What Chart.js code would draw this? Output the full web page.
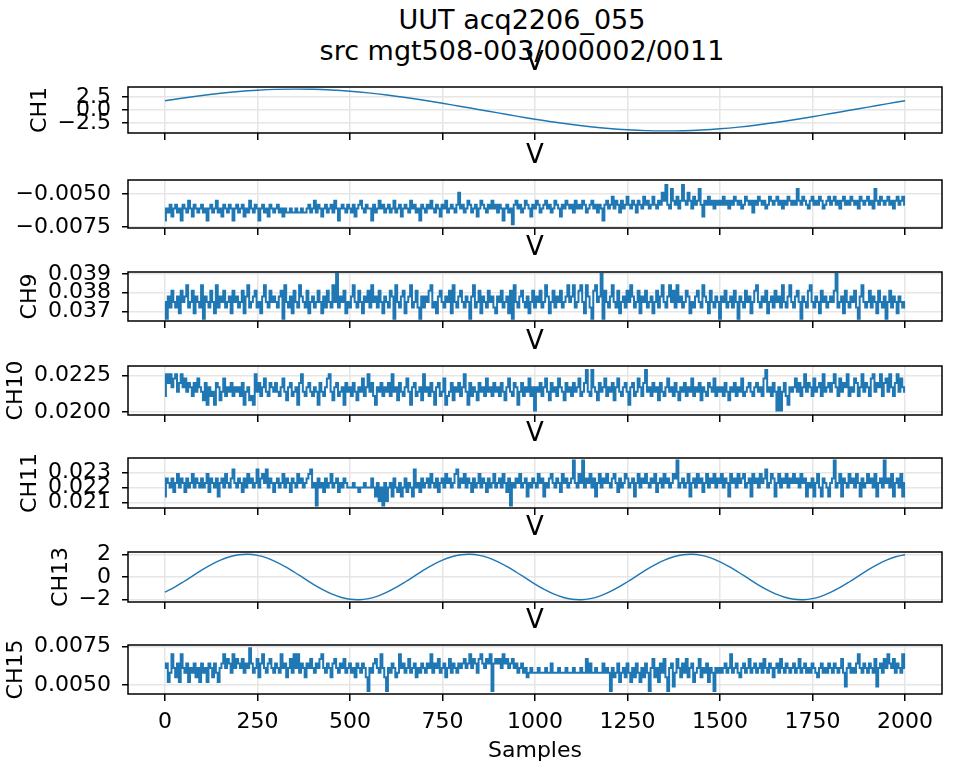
<!DOCTYPE html>
<html>
<head>
<meta charset="utf-8">
<script src="https://cdn.jsdelivr.net/npm/chart.js@4.4.1/dist/chart.umd.min.js"></script>
<style>
  html, body { margin: 0; padding: 0; background: #ffffff; }
  #fig { position: relative; width: 954px; height: 764px; overflow: hidden; background: #ffffff; }
  #fig canvas { position: absolute; left: 0; }
  .suptitle { position: absolute; left: 0; width: 1044px; text-align: center;
              font-family: 'DejaVu Sans', sans-serif; font-size: 27px; line-height: 27px; color: #000; white-space: pre; }
</style>
</head>
<body>
<div id="fig">
  <div class="suptitle" style="top:6px">UUT acq2206_055</div>
  <div class="suptitle" style="top:37px">src mgt508-003/000002/0011</div>
</div>
<script>
// ---- sample axis ----
const SAMPLE_TICKS = [0, 250, 500, 750, 1000, 1250, 1500, 1750, 2000];

// ---- CH1: slow sine, one value every 50 samples ----
const CH1_STEP = 50;
const CH1 = [
  1.76, 2.30, 2.78, 3.20, 3.54, 3.78, 3.94, 4.00, 3.96, 3.82,
  3.59, 3.27, 2.87, 2.40, 1.87, 1.29, 0.68, 0.06, -0.56, -1.18,
  -1.76, -2.30, -2.78, -3.20, -3.54, -3.78, -3.94, -4.00, -3.96, -3.82,
  -3.59, -3.27, -2.87, -2.40, -1.87, -1.29, -0.68, -0.06, 0.56, 1.18,
  1.76
];
const CH1_TICKS = [-2.5, 0, 2.5];

// ---- second row channel (label off the left edge), one value every 5 samples ----
const NOISE_STEP = 5;
const UNLABELED = [
  -0.0070,-0.0061,-0.0064,-0.0058,-0.0067,-0.0061,-0.0058,-0.0064,-0.0061,-0.0070,-0.0058,-0.0061,-0.0064,-0.0055,-0.0061,-0.0067,-0.0058,-0.0061,-0.0064,-0.0061,
  -0.0058,-0.0064,-0.0061,-0.0070,-0.0061,-0.0058,-0.0064,-0.0061,-0.0055,-0.0064,-0.0061,-0.0067,-0.0058,-0.0061,-0.0064,-0.0058,-0.0061,-0.0070,-0.0061,-0.0058,
  -0.0064,-0.0061,-0.0058,-0.0067,-0.0061,-0.0064,-0.0055,-0.0061,-0.0064,-0.0058,-0.0061,-0.0070,-0.0061,-0.0058,-0.0064,-0.0061,-0.0067,-0.0058,-0.0061,-0.0064,
  -0.0061,-0.0058,-0.0064,-0.0061,-0.0067,-0.0061,-0.0064,-0.0064,-0.0061,-0.0064,-0.0064,-0.0061,-0.0064,-0.0064,-0.0061,-0.0064,-0.0064,-0.0061,-0.0058,-0.0064,
  -0.0061,-0.0055,-0.0064,-0.0058,-0.0061,-0.0067,-0.0061,-0.0058,-0.0064,-0.0061,-0.0058,-0.0064,-0.0055,-0.0061,-0.0070,-0.0061,-0.0058,-0.0061,-0.0064,-0.0058,
  -0.0061,-0.0064,-0.0058,-0.0067,-0.0061,-0.0058,-0.0055,-0.0061,-0.0064,-0.0058,-0.0061,-0.0061,-0.0070,-0.0058,-0.0064,-0.0061,-0.0055,-0.0061,-0.0058,-0.0064,
  -0.0061,-0.0058,-0.0064,-0.0061,-0.0055,-0.0064,-0.0061,-0.0058,-0.0067,-0.0061,-0.0058,-0.0061,-0.0064,-0.0055,-0.0061,-0.0058,-0.0064,-0.0061,-0.0070,-0.0058,
  -0.0061,-0.0064,-0.0058,-0.0061,-0.0055,-0.0061,-0.0064,-0.0058,-0.0061,-0.0067,-0.0058,-0.0061,-0.0055,-0.0064,-0.0061,-0.0058,-0.0061,-0.0064,-0.0058,-0.0049,
  -0.0061,-0.0058,-0.0064,-0.0061,-0.0055,-0.0058,-0.0064,-0.0061,-0.0058,-0.0067,-0.0061,-0.0055,-0.0058,-0.0061,-0.0064,-0.0058,-0.0061,-0.0055,-0.0061,-0.0058,
  -0.0064,-0.0058,-0.0061,-0.0070,-0.0061,-0.0058,-0.0064,-0.0061,-0.0073,-0.0058,-0.0055,-0.0061,-0.0058,-0.0064,-0.0061,-0.0055,-0.0058,-0.0061,-0.0067,-0.0058,
  -0.0061,-0.0055,-0.0058,-0.0064,-0.0061,-0.0058,-0.0055,-0.0061,-0.0058,-0.0064,-0.0061,-0.0055,-0.0058,-0.0061,-0.0067,-0.0058,-0.0061,-0.0055,-0.0058,-0.0061,
  -0.0058,-0.0064,-0.0055,-0.0061,-0.0058,-0.0061,-0.0055,-0.0058,-0.0064,-0.0061,-0.0058,-0.0055,-0.0061,-0.0058,-0.0064,-0.0058,-0.0061,-0.0070,-0.0058,-0.0055,
  -0.0061,-0.0058,-0.0052,-0.0061,-0.0055,-0.0058,-0.0064,-0.0055,-0.0061,-0.0058,-0.0052,-0.0058,-0.0061,-0.0055,-0.0058,-0.0064,-0.0055,-0.0058,-0.0061,-0.0052,
  -0.0058,-0.0055,-0.0061,-0.0058,-0.0052,-0.0058,-0.0061,-0.0055,-0.0058,-0.0049,-0.0055,-0.0043,-0.0058,-0.0061,-0.0046,-0.0055,-0.0058,-0.0052,-0.0061,-0.0055,
  -0.0043,-0.0055,-0.0058,-0.0049,-0.0055,-0.0061,-0.0052,-0.0058,-0.0055,-0.0046,-0.0058,-0.0067,-0.0055,-0.0058,-0.0052,-0.0058,-0.0055,-0.0061,-0.0055,-0.0058,
  -0.0055,-0.0058,-0.0052,-0.0058,-0.0055,-0.0061,-0.0055,-0.0058,-0.0052,-0.0055,-0.0058,-0.0055,-0.0061,-0.0058,-0.0052,-0.0055,-0.0058,-0.0055,-0.0064,-0.0055,
  -0.0058,-0.0052,-0.0055,-0.0058,-0.0055,-0.0061,-0.0058,-0.0052,-0.0055,-0.0058,-0.0055,-0.0052,-0.0058,-0.0055,-0.0061,-0.0055,-0.0058,-0.0052,-0.0055,-0.0058,
  -0.0055,-0.0058,-0.0046,-0.0055,-0.0058,-0.0052,-0.0055,-0.0058,-0.0061,-0.0055,-0.0052,-0.0058,-0.0055,-0.0058,-0.0052,-0.0055,-0.0061,-0.0058,-0.0055,-0.0052,
  -0.0058,-0.0055,-0.0052,-0.0058,-0.0055,-0.0061,-0.0055,-0.0052,-0.0058,-0.0055,-0.0058,-0.0052,-0.0055,-0.0058,-0.0055,-0.0061,-0.0052,-0.0055,-0.0058,-0.0055,
  -0.0052,-0.0058,-0.0055,-0.0061,-0.0046,-0.0055,-0.0058,-0.0052,-0.0055,-0.0058,-0.0055,-0.0052,-0.0058,-0.0055,-0.0061,-0.0055,-0.0052,-0.0058,-0.0055,-0.0052,
  -0.0058
];
const UNLABELED_TICKS = [-0.0075, -0.005];

// ---- CH9 ----
const CH9 = [
  0.0375,0.0366,0.0378,0.0372,0.0381,0.0375,0.0372,0.0378,0.0369,0.0381,0.0375,0.0378,0.0384,0.0372,0.0375,0.0381,0.0369,0.0378,0.0375,0.0372,
  0.0384,0.0366,0.0378,0.0375,0.0372,0.0381,0.0375,0.0369,0.0384,0.0372,0.0378,0.0375,0.0381,0.0372,0.0375,0.0378,0.0369,0.0381,0.0375,0.0378,
  0.0372,0.0375,0.0381,0.0369,0.0378,0.0384,0.0372,0.0375,0.0378,0.0381,0.0372,0.0375,0.0369,0.0378,0.0384,0.0375,0.0372,0.0381,0.0375,0.0378,
  0.0375,0.0372,0.0378,0.0381,0.0366,0.0384,0.0375,0.0372,0.0378,0.0369,0.0381,0.0375,0.0372,0.0384,0.0378,0.0375,0.0372,0.0381,0.0369,0.0375,
  0.0378,0.0372,0.0375,0.0381,0.0375,0.0369,0.0378,0.0372,0.0381,0.0375,0.0372,0.0384,0.0375,0.0390,0.0372,0.0378,0.0375,0.0381,0.0369,0.0375,
  0.0372,0.0378,0.0384,0.0375,0.0372,0.0381,0.0375,0.0369,0.0378,0.0375,0.0381,0.0372,0.0384,0.0375,0.0378,0.0372,0.0381,0.0375,0.0369,0.0378,
  0.0375,0.0372,0.0381,0.0378,0.0366,0.0384,0.0375,0.0372,0.0378,0.0381,0.0369,0.0375,0.0378,0.0384,0.0372,0.0375,0.0381,0.0372,0.0366,0.0378,
  0.0372,0.0378,0.0375,0.0381,0.0384,0.0372,0.0375,0.0369,0.0378,0.0381,0.0375,0.0372,0.0378,0.0375,0.0381,0.0369,0.0384,0.0375,0.0372,0.0378,
  0.0381,0.0375,0.0372,0.0378,0.0375,0.0366,0.0378,0.0384,0.0372,0.0375,0.0381,0.0369,0.0378,0.0375,0.0372,0.0381,0.0375,0.0378,0.0372,0.0369,
  0.0378,0.0375,0.0381,0.0372,0.0375,0.0378,0.0369,0.0381,0.0366,0.0384,0.0375,0.0372,0.0378,0.0381,0.0375,0.0372,0.0378,0.0369,0.0375,0.0381,
  0.0372,0.0378,0.0375,0.0381,0.0372,0.0375,0.0384,0.0378,0.0369,0.0375,0.0381,0.0372,0.0378,0.0375,0.0381,0.0372,0.0375,0.0378,0.0384,0.0375,
  0.0378,0.0384,0.0372,0.0375,0.0381,0.0384,0.0375,0.0369,0.0384,0.0378,0.0372,0.0366,0.0381,0.0384,0.0375,0.0378,0.0390,0.0366,0.0381,0.0375,
  0.0372,0.0378,0.0384,0.0375,0.0372,0.0381,0.0369,0.0375,0.0378,0.0372,0.0381,0.0375,0.0384,0.0378,0.0372,0.0375,0.0381,0.0369,0.0378,0.0375,
  0.0381,0.0372,0.0375,0.0378,0.0369,0.0375,0.0381,0.0372,0.0378,0.0384,0.0375,0.0372,0.0378,0.0384,0.0375,0.0381,0.0372,0.0384,0.0375,0.0378,
  0.0372,0.0375,0.0381,0.0378,0.0369,0.0375,0.0372,0.0378,0.0381,0.0375,0.0372,0.0384,0.0378,0.0375,0.0369,0.0381,0.0375,0.0372,0.0378,0.0375,
  0.0366,0.0378,0.0375,0.0381,0.0372,0.0375,0.0378,0.0372,0.0381,0.0375,0.0366,0.0378,0.0375,0.0372,0.0381,0.0375,0.0378,0.0369,0.0375,0.0381,
  0.0384,0.0375,0.0372,0.0378,0.0375,0.0381,0.0369,0.0375,0.0378,0.0372,0.0381,0.0375,0.0378,0.0372,0.0384,0.0375,0.0372,0.0378,0.0384,0.0375,
  0.0372,0.0378,0.0381,0.0375,0.0366,0.0378,0.0375,0.0372,0.0381,0.0384,0.0375,0.0372,0.0378,0.0375,0.0369,0.0381,0.0375,0.0378,0.0372,0.0375,
  0.0378,0.0375,0.0381,0.0390,0.0372,0.0375,0.0378,0.0369,0.0381,0.0375,0.0372,0.0378,0.0375,0.0381,0.0372,0.0366,0.0378,0.0384,0.0375,0.0372,
  0.0375,0.0381,0.0372,0.0378,0.0375,0.0369,0.0381,0.0375,0.0372,0.0378,0.0366,0.0375,0.0381,0.0372,0.0378,0.0375,0.0369,0.0378,0.0375,0.0372,
  0.0375
];
const CH9_TICKS = [0.037, 0.038, 0.039];

// ---- CH10 ----
const CH10 = [
  0.0211,0.0226,0.0220,0.0226,0.0217,0.0223,0.0226,0.0214,0.0220,0.0226,0.0217,0.0223,0.0214,0.0220,0.0217,0.0211,0.0220,0.0214,0.0223,0.0217,
  0.0214,0.0208,0.0220,0.0205,0.0217,0.0211,0.0214,0.0205,0.0220,0.0217,0.0208,0.0214,0.0223,0.0211,0.0217,0.0214,0.0220,0.0211,0.0217,0.0214,
  0.0217,0.0211,0.0220,0.0205,0.0214,0.0217,0.0208,0.0211,0.0205,0.0226,0.0214,0.0220,0.0211,0.0217,0.0223,0.0214,0.0211,0.0220,0.0217,0.0214,
  0.0220,0.0214,0.0211,0.0217,0.0223,0.0214,0.0208,0.0217,0.0220,0.0211,0.0214,0.0217,0.0205,0.0220,0.0226,0.0214,0.0211,0.0217,0.0220,0.0214,
  0.0211,0.0217,0.0214,0.0205,0.0220,0.0214,0.0211,0.0217,0.0223,0.0226,0.0214,0.0208,0.0217,0.0220,0.0211,0.0214,0.0217,0.0205,0.0220,0.0214,
  0.0217,0.0211,0.0220,0.0214,0.0208,0.0217,0.0214,0.0223,0.0211,0.0217,0.0226,0.0214,0.0220,0.0211,0.0205,0.0217,0.0214,0.0220,0.0211,0.0217,
  0.0214,0.0220,0.0211,0.0226,0.0214,0.0217,0.0208,0.0220,0.0214,0.0211,0.0217,0.0223,0.0214,0.0205,0.0217,0.0220,0.0211,0.0214,0.0217,0.0208,
  0.0226,0.0214,0.0217,0.0211,0.0220,0.0214,0.0205,0.0217,0.0220,0.0211,0.0214,0.0223,0.0205,0.0211,0.0214,0.0220,0.0208,0.0217,0.0214,0.0220,
  0.0211,0.0217,0.0226,0.0214,0.0205,0.0220,0.0211,0.0217,0.0214,0.0208,0.0220,0.0214,0.0217,0.0211,0.0223,0.0214,0.0217,0.0211,0.0220,0.0214,
  0.0217,0.0211,0.0220,0.0214,0.0208,0.0217,0.0223,0.0214,0.0211,0.0220,0.0217,0.0205,0.0214,0.0220,0.0211,0.0217,0.0214,0.0223,0.0211,0.0217,
  0.0201,0.0217,0.0214,0.0220,0.0211,0.0217,0.0223,0.0214,0.0208,0.0220,0.0214,0.0217,0.0211,0.0223,0.0217,0.0214,0.0208,0.0220,0.0214,0.0217,
  0.0211,0.0220,0.0214,0.0217,0.0223,0.0211,0.0214,0.0220,0.0229,0.0214,0.0211,0.0229,0.0217,0.0214,0.0208,0.0220,0.0214,0.0217,0.0223,0.0211,
  0.0217,0.0214,0.0220,0.0208,0.0217,0.0223,0.0214,0.0211,0.0217,0.0220,0.0214,0.0205,0.0217,0.0220,0.0211,0.0214,0.0223,0.0217,0.0211,0.0220,
  0.0229,0.0214,0.0217,0.0211,0.0220,0.0214,0.0217,0.0208,0.0220,0.0214,0.0211,0.0217,0.0223,0.0214,0.0217,0.0211,0.0220,0.0214,0.0208,0.0217,
  0.0214,0.0220,0.0211,0.0217,0.0214,0.0223,0.0211,0.0217,0.0214,0.0220,0.0208,0.0217,0.0214,0.0211,0.0220,0.0217,0.0214,0.0223,0.0211,0.0217,
  0.0214,0.0217,0.0211,0.0220,0.0214,0.0208,0.0217,0.0214,0.0220,0.0211,0.0217,0.0214,0.0223,0.0211,0.0214,0.0217,0.0220,0.0214,0.0211,0.0217,
  0.0220,0.0214,0.0217,0.0211,0.0223,0.0229,0.0214,0.0217,0.0211,0.0220,0.0214,0.0201,0.0217,0.0201,0.0214,0.0220,0.0211,0.0205,0.0217,0.0214,
  0.0217,0.0223,0.0214,0.0220,0.0211,0.0217,0.0226,0.0214,0.0220,0.0217,0.0211,0.0223,0.0214,0.0217,0.0220,0.0211,0.0226,0.0214,0.0217,0.0220,
  0.0214,0.0220,0.0226,0.0217,0.0211,0.0223,0.0214,0.0220,0.0217,0.0226,0.0211,0.0217,0.0214,0.0223,0.0220,0.0211,0.0217,0.0226,0.0214,0.0220,
  0.0217,0.0211,0.0223,0.0226,0.0214,0.0220,0.0217,0.0226,0.0211,0.0220,0.0223,0.0214,0.0226,0.0217,0.0211,0.0220,0.0226,0.0214,0.0223,0.0217,
  0.0214
];
const CH10_TICKS = [0.02, 0.0225];

// ---- CH11 ----
const CH11 = [
  0.0214,0.0226,0.0223,0.0220,0.0226,0.0217,0.0223,0.0229,0.0220,0.0226,0.0223,0.0217,0.0226,0.0220,0.0223,0.0229,0.0220,0.0226,0.0223,0.0220,
  0.0226,0.0220,0.0223,0.0229,0.0217,0.0226,0.0223,0.0220,0.0226,0.0214,0.0223,0.0226,0.0220,0.0229,0.0223,0.0220,0.0226,0.0232,0.0223,0.0220,
  0.0226,0.0223,0.0217,0.0226,0.0220,0.0229,0.0223,0.0226,0.0220,0.0223,0.0232,0.0220,0.0226,0.0229,0.0223,0.0232,0.0220,0.0226,0.0223,0.0217,
  0.0223,0.0226,0.0220,0.0223,0.0229,0.0220,0.0226,0.0223,0.0217,0.0226,0.0223,0.0220,0.0229,0.0223,0.0226,0.0220,0.0223,0.0226,0.0229,0.0232,
  0.0220,0.0223,0.0208,0.0226,0.0220,0.0223,0.0217,0.0226,0.0220,0.0223,0.0229,0.0220,0.0223,0.0226,0.0217,0.0223,0.0220,0.0226,0.0223,0.0220,
  0.0220,0.0220,0.0223,0.0220,0.0220,0.0217,0.0220,0.0220,0.0223,0.0220,0.0220,0.0220,0.0226,0.0220,0.0214,0.0223,0.0211,0.0220,0.0208,0.0223,
  0.0211,0.0220,0.0223,0.0214,0.0226,0.0220,0.0217,0.0223,0.0214,0.0220,0.0226,0.0217,0.0223,0.0220,0.0214,0.0232,0.0220,0.0223,0.0217,0.0226,
  0.0220,0.0223,0.0226,0.0220,0.0229,0.0223,0.0220,0.0226,0.0217,0.0223,0.0226,0.0220,0.0229,0.0223,0.0226,0.0220,0.0223,0.0229,0.0232,0.0220,
  0.0226,0.0223,0.0229,0.0220,0.0226,0.0223,0.0217,0.0226,0.0220,0.0223,0.0229,0.0220,0.0226,0.0223,0.0217,0.0226,0.0220,0.0223,0.0229,0.0220,
  0.0223,0.0226,0.0220,0.0229,0.0223,0.0217,0.0226,0.0208,0.0223,0.0220,0.0226,0.0223,0.0229,0.0220,0.0223,0.0226,0.0214,0.0223,0.0220,0.0226,
  0.0223,0.0220,0.0229,0.0223,0.0226,0.0214,0.0223,0.0220,0.0226,0.0229,0.0223,0.0220,0.0226,0.0223,0.0217,0.0229,0.0223,0.0226,0.0220,0.0223,
  0.0226,0.0238,0.0223,0.0220,0.0229,0.0223,0.0238,0.0220,0.0226,0.0223,0.0229,0.0220,0.0226,0.0214,0.0223,0.0229,0.0220,0.0226,0.0223,0.0229,
  0.0223,0.0220,0.0226,0.0229,0.0223,0.0217,0.0226,0.0220,0.0223,0.0229,0.0226,0.0220,0.0223,0.0226,0.0214,0.0223,0.0229,0.0220,0.0226,0.0223,
  0.0229,0.0223,0.0220,0.0226,0.0223,0.0229,0.0217,0.0223,0.0226,0.0220,0.0229,0.0223,0.0226,0.0220,0.0223,0.0229,0.0226,0.0238,0.0220,0.0223,
  0.0226,0.0220,0.0223,0.0229,0.0214,0.0223,0.0226,0.0220,0.0229,0.0223,0.0226,0.0217,0.0223,0.0229,0.0220,0.0226,0.0223,0.0229,0.0220,0.0226,
  0.0223,0.0229,0.0220,0.0226,0.0223,0.0214,0.0229,0.0223,0.0226,0.0220,0.0229,0.0223,0.0226,0.0229,0.0220,0.0223,0.0226,0.0214,0.0229,0.0223,
  0.0226,0.0220,0.0229,0.0223,0.0226,0.0232,0.0220,0.0223,0.0229,0.0226,0.0214,0.0223,0.0229,0.0220,0.0226,0.0223,0.0229,0.0220,0.0226,0.0223,
  0.0229,0.0223,0.0226,0.0220,0.0229,0.0223,0.0226,0.0214,0.0223,0.0220,0.0226,0.0214,0.0223,0.0229,0.0220,0.0214,0.0226,0.0223,0.0220,0.0214,
  0.0223,0.0226,0.0238,0.0220,0.0223,0.0229,0.0214,0.0226,0.0223,0.0220,0.0229,0.0223,0.0226,0.0220,0.0229,0.0223,0.0214,0.0226,0.0220,0.0223,
  0.0229,0.0223,0.0226,0.0220,0.0229,0.0214,0.0223,0.0226,0.0220,0.0238,0.0223,0.0226,0.0220,0.0229,0.0214,0.0223,0.0226,0.0220,0.0229,0.0214,
  0.0223
];
const CH11_TICKS = [0.021, 0.022, 0.023];

// ---- CH13: faster sine, one value every 25 samples ----
const CH13_STEP = 25;
const CH13 = [
  -1.34,-0.91,-0.42,0.10,0.62,1.09,1.49,1.78,1.96,2.00,1.90,1.68,1.34,0.91,0.42,-0.10,-0.62,-1.09,-1.49,-1.78,-1.96,-2.00,-1.90,-1.68,
  -1.34,-0.91,-0.42,0.10,0.62,1.09,1.49,1.78,1.96,2.00,1.90,1.68,1.34,0.91,0.42,-0.10,-0.62,-1.09,-1.49,-1.78,-1.96,-2.00,-1.90,-1.68,
  -1.34,-0.91,-0.42,0.10,0.62,1.09,1.49,1.78,1.96,2.00,1.90,1.68,1.34,0.91,0.42,-0.10,-0.62,-1.09,-1.49,-1.78,-1.96,-2.00,-1.90,-1.68,
  -1.34,-0.91,-0.42,0.10,0.62,1.09,1.49,1.78,1.96
];
const CH13_TICKS = [-2, 0, 2];

// ---- CH15 ----
const CH15 = [
  0.0061,0.0064,0.0052,0.0058,0.0070,0.0061,0.0055,0.0064,0.0052,0.0070,0.0061,0.0058,0.0064,0.0052,0.0061,0.0058,0.0064,0.0055,0.0061,0.0052,
  0.0064,0.0058,0.0061,0.0052,0.0064,0.0061,0.0055,0.0064,0.0058,0.0052,0.0061,0.0064,0.0070,0.0061,0.0067,0.0064,0.0058,0.0070,0.0061,0.0067,
  0.0064,0.0061,0.0067,0.0058,0.0064,0.0061,0.0074,0.0064,0.0058,0.0061,0.0067,0.0055,0.0064,0.0070,0.0061,0.0058,0.0064,0.0067,0.0061,0.0058,
  0.0064,0.0061,0.0058,0.0070,0.0061,0.0064,0.0055,0.0061,0.0067,0.0058,0.0070,0.0061,0.0070,0.0058,0.0064,0.0061,0.0055,0.0064,0.0061,0.0067,
  0.0061,0.0058,0.0064,0.0061,0.0067,0.0070,0.0061,0.0058,0.0064,0.0061,0.0055,0.0064,0.0067,0.0061,0.0058,0.0064,0.0061,0.0067,0.0058,0.0061,
  0.0064,0.0058,0.0061,0.0055,0.0064,0.0061,0.0058,0.0064,0.0061,0.0055,0.0046,0.0061,0.0058,0.0064,0.0067,0.0061,0.0058,0.0070,0.0061,0.0055,
  0.0046,0.0061,0.0058,0.0064,0.0061,0.0055,0.0058,0.0070,0.0061,0.0064,0.0058,0.0061,0.0067,0.0058,0.0061,0.0064,0.0055,0.0061,0.0058,0.0064,
  0.0061,0.0058,0.0064,0.0061,0.0070,0.0058,0.0064,0.0061,0.0067,0.0058,0.0061,0.0064,0.0055,0.0061,0.0067,0.0058,0.0064,0.0061,0.0058,0.0064,
  0.0061,0.0064,0.0067,0.0061,0.0064,0.0070,0.0061,0.0067,0.0064,0.0058,0.0067,0.0070,0.0064,0.0061,0.0067,0.0064,0.0070,0.0046,0.0064,0.0067,
  0.0064,0.0067,0.0061,0.0070,0.0064,0.0067,0.0061,0.0064,0.0067,0.0061,0.0064,0.0058,0.0061,0.0064,0.0058,0.0061,0.0055,0.0058,0.0061,0.0058,
  0.0058,0.0058,0.0061,0.0058,0.0058,0.0058,0.0061,0.0058,0.0058,0.0064,0.0058,0.0058,0.0058,0.0061,0.0058,0.0058,0.0058,0.0061,0.0058,0.0058,
  0.0058,0.0061,0.0058,0.0058,0.0058,0.0061,0.0058,0.0058,0.0067,0.0058,0.0064,0.0058,0.0058,0.0061,0.0058,0.0058,0.0058,0.0064,0.0058,0.0061,
  0.0058,0.0046,0.0061,0.0055,0.0058,0.0064,0.0052,0.0058,0.0061,0.0055,0.0064,0.0058,0.0052,0.0061,0.0055,0.0064,0.0058,0.0052,0.0061,0.0055,
  0.0064,0.0058,0.0046,0.0061,0.0067,0.0055,0.0061,0.0052,0.0064,0.0058,0.0067,0.0055,0.0046,0.0061,0.0064,0.0049,0.0058,0.0067,0.0061,0.0055,
  0.0064,0.0058,0.0067,0.0055,0.0061,0.0064,0.0052,0.0058,0.0061,0.0067,0.0055,0.0061,0.0058,0.0064,0.0052,0.0061,0.0058,0.0046,0.0061,0.0058,
  0.0061,0.0058,0.0061,0.0064,0.0058,0.0061,0.0070,0.0058,0.0061,0.0064,0.0058,0.0055,0.0061,0.0064,0.0058,0.0061,0.0067,0.0058,0.0061,0.0064,
  0.0058,0.0061,0.0064,0.0058,0.0067,0.0061,0.0058,0.0064,0.0061,0.0055,0.0061,0.0064,0.0058,0.0067,0.0061,0.0058,0.0064,0.0061,0.0058,0.0061,
  0.0064,0.0058,0.0061,0.0067,0.0058,0.0061,0.0064,0.0058,0.0061,0.0058,0.0064,0.0061,0.0058,0.0055,0.0061,0.0064,0.0058,0.0061,0.0058,0.0064,
  0.0061,0.0058,0.0064,0.0061,0.0058,0.0061,0.0067,0.0058,0.0049,0.0061,0.0064,0.0058,0.0061,0.0058,0.0064,0.0070,0.0061,0.0058,0.0064,0.0061,
  0.0058,0.0064,0.0061,0.0058,0.0067,0.0049,0.0061,0.0064,0.0058,0.0067,0.0061,0.0070,0.0064,0.0061,0.0067,0.0058,0.0064,0.0061,0.0058,0.0070,
  0.0061
];
const CH15_TICKS = [0.005, 0.0075];

// ---- styling ----
const FONT = "'DejaVu Sans', sans-serif";
const LINE_COLOR = '#1f77b4';
const GRID_COLOR = '#e6e6e6';
const TICK_FONT_SIZE = 22;
const TITLE_FONT_SIZE = 26;
const Y_TICK_LEN = 6, Y_TICK_PAD = 11, YLABEL_GAP = 12;
const AXES_LEFT = 128, AXES_RIGHT = 942, FIG_W = 954;
const TITLE_BLOCK = 39;

Chart.defaults.font.family = FONT;
Chart.defaults.color = '#000';

const PANELS = [
  { label: 'CH1',  values: CH1,       step: CH1_STEP,   ticks: CH1_TICKS,       digits: 1, yMin: -4.4,     yMax: 4.4,      top: 87,  bottom: 133, width: 1.4, tension: 0.4, stepped: false },
  { label: '',     values: UNLABELED, step: NOISE_STEP, ticks: UNLABELED_TICKS, digits: 4, yMin: -0.00758, yMax: -0.00392, top: 180, bottom: 228, width: 2, tension: 0, stepped: 'middle' },
  { label: 'CH9',  values: CH9,       step: NOISE_STEP, ticks: CH9_TICKS,       digits: 3, yMin: 0.03648,  yMax: 0.03911,  top: 272, bottom: 321, width: 2, tension: 0, stepped: 'middle' },
  { label: 'CH10', values: CH10,      step: NOISE_STEP, ticks: CH10_TICKS,      digits: 4, yMin: 0.01979,  yMax: 0.02317,  top: 366, bottom: 415, width: 2, tension: 0, stepped: 'middle' },
  { label: 'CH11', values: CH11,      step: NOISE_STEP, ticks: CH11_TICKS,      digits: 3, yMin: 0.02064,  yMax: 0.02397,  top: 458, bottom: 508, width: 2, tension: 0, stepped: 'middle' },
  { label: 'CH13', values: CH13,      step: CH13_STEP,  ticks: CH13_TICKS,      digits: 0, yMin: -2.2,     yMax: 2.2,      top: 552, bottom: 602, width: 1.4, tension: 0.4, stepped: false },
  { label: 'CH15', values: CH15,      step: NOISE_STEP, ticks: CH15_TICKS,      digits: 4, yMin: 0.00441,  yMax: 0.00761,  top: 645, bottom: 694, width: 2, tension: 0, stepped: 'middle' }
];

// black frame around each axes box
const framePlugin = {
  id: 'frame',
  afterDatasetsDraw(chart) {
    const { ctx, chartArea: a } = chart;
    ctx.save();
    ctx.strokeStyle = '#000';
    ctx.lineWidth = 1.5;
    ctx.strokeRect(a.left, a.top, a.right - a.left, a.bottom - a.top);
    ctx.restore();
  }
};

// rotated y label placed just left of the widest tick label
const yLabelPlugin = {
  id: 'yLabel',
  afterDraw(chart, args, opts) {
    if (!opts.text) return;
    const { ctx, chartArea: a } = chart;
    const y = chart.scales.y;
    ctx.save();
    ctx.font = TICK_FONT_SIZE + 'px ' + FONT;
    let w = 0;
    y.ticks.forEach(t => { w = Math.max(w, ctx.measureText(String(t.label)).width); });
    const x = a.left - Y_TICK_LEN - Y_TICK_PAD - w - YLABEL_GAP;
    ctx.translate(x, (a.top + a.bottom) / 2);
    ctx.rotate(-Math.PI / 2);
    ctx.textAlign = 'center';
    ctx.textBaseline = 'alphabetic';
    ctx.fillStyle = '#000';
    ctx.fillText(opts.text, 0, 0);
    ctx.restore();
  }
};

const fig = document.getElementById('fig');

PANELS.forEach((p, idx) => {
  const last = idx === PANELS.length - 1;
  const xAxisH = last ? 70 : 14;
  const canvasTop = p.top - TITLE_BLOCK;
  const canvasH = (p.bottom - p.top) + TITLE_BLOCK + xAxisH;
  const cv = document.createElement('canvas');
  cv.width = FIG_W; cv.height = canvasH;
  cv.style.top = canvasTop + 'px';
  cv.style.width = FIG_W + 'px'; cv.style.height = canvasH + 'px';
  fig.appendChild(cv);

  const points = p.values.map((v, i) => ({ x: i * p.step, y: v }));
  const fmt = v => v.toFixed(p.digits).replace('-', '\u2212');

  new Chart(cv, {
    type: 'line',
    data: { datasets: [{ data: points, borderColor: LINE_COLOR, borderWidth: p.width,
                         pointRadius: 0, tension: p.tension, stepped: p.stepped, fill: false }] },
    options: {
      responsive: false, animation: false, devicePixelRatio: 1,
      events: [],
      layout: { padding: { left: 0, right: FIG_W - AXES_RIGHT, top: 0, bottom: 0 } },
      plugins: {
        legend: { display: false },
        tooltip: { enabled: false },
        title: { display: true, text: 'V', fullSize: false, color: '#000',
                 font: { family: FONT, size: TITLE_FONT_SIZE, weight: 'normal' },
                 padding: { top: 0, bottom: TITLE_BLOCK - TITLE_FONT_SIZE * 1.2 } },
        yLabel: { text: p.label }
      },
      scales: {
        x: {
          type: 'linear', min: -100, max: 2100,
          afterBuildTicks: s => { s.ticks = SAMPLE_TICKS.map(v => ({ value: v })); },
          afterFit: s => { s.height = xAxisH; s.paddingLeft = 0; s.paddingRight = 0; },
          grid: { color: GRID_COLOR, lineWidth: 1.5, tickColor: '#000', tickLength: 7, tickWidth: 1.5 },
          border: { display: false },
          ticks: { display: last, color: '#000', font: { family: FONT, size: TICK_FONT_SIZE },
                   padding: 8, maxRotation: 0, autoSkip: false, callback: v => String(v) },
          title: { display: last, text: 'Samples', color: '#000',
                   font: { family: FONT, size: TICK_FONT_SIZE }, padding: { top: 0, bottom: 0 } }
        },
        y: {
          type: 'linear', min: p.yMin, max: p.yMax,
          afterBuildTicks: s => { s.ticks = p.ticks.map(v => ({ value: v })); },
          afterFit: s => { s.width = AXES_LEFT; s.paddingTop = 0; s.paddingBottom = 0; },
          grid: { color: GRID_COLOR, lineWidth: 1.5, tickColor: '#000', tickLength: Y_TICK_LEN, tickWidth: 1.5 },
          border: { display: false },
          ticks: { color: '#000', font: { family: FONT, size: TICK_FONT_SIZE }, autoSkip: false,
                   padding: Y_TICK_PAD, callback: v => fmt(v) }
        }
      }
    },
    plugins: [framePlugin, yLabelPlugin]
  });
});
</script>
</body>
</html>
